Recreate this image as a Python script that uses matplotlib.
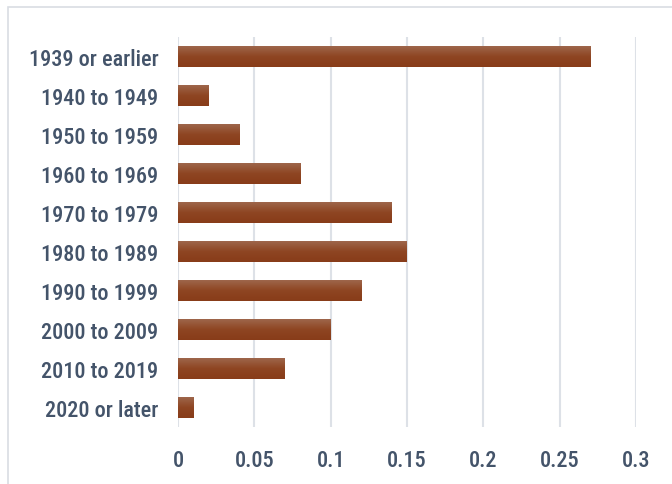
import numpy as np
import matplotlib.pyplot as plt
from matplotlib.colors import LinearSegmentedColormap
from matplotlib.patches import Rectangle
from matplotlib import font_manager

# --- data ---
categories = ['1939 or earlier', '1940 to 1949', '1950 to 1959', '1960 to 1969',
              '1970 to 1979', '1980 to 1989', '1990 to 1999', '2000 to 2009',
              '2010 to 2019', '2020 or later']
shares = [0.27, 0.02, 0.04, 0.08, 0.14, 0.15, 0.12, 0.10, 0.07, 0.01]
xticks = [0, 0.05, 0.1, 0.15, 0.2, 0.25, 0.3]
xtick_labels = ['0', '0.05', '0.1', '0.15', '0.2', '0.25', '0.3']

TEXT = '#44546a'
GRID = '#dde1e7'

# pick a narrow face, the reference uses a condensed font
names = {f.name for f in font_manager.fontManager.ttflist}
candidates = ['Roboto Condensed', 'Archivo Narrow', 'PT Sans Narrow', 'Encode Sans Condensed',
              'Barlow Semi Condensed', 'Liberation Sans Narrow', 'Open Sans Condensed']
family = next((c for c in candidates if c in names), 'DejaVu Sans')
plt.rcParams['font.family'] = [family, 'DejaVu Sans']

fig = plt.figure(figsize=(6.72, 4.85), dpi=100)
ax = fig.add_axes([178 / 672, 1 - 428 / 485, (636 - 178) / 672, (428 - 38) / 485])

# chart frame (light border on left and top)
fig.patches.append(Rectangle((8 / 672, -0.1), 1.0, 1 - 8 / 485 + 0.1,
                             transform=fig.transFigure, fill=False,
                             edgecolor='#d9dde3', linewidth=1.2))

grad = LinearSegmentedColormap.from_list('bar', ['#9e664b', '#8e4522', '#883c19'])
gimg = np.linspace(0, 1, 64).reshape(-1, 1)
h = 0.52
y = np.arange(len(categories))
for yi, v in zip(y, shares):
    ax.imshow(gimg, cmap=grad, aspect='auto', interpolation='bilinear',
              extent=(0, v, yi + h / 2, yi - h / 2), zorder=3)

ax.set_xlim(0, 0.3)
ax.set_ylim(len(categories) - 0.5, -0.5)
ax.set_xticks(xticks)
ax.set_xticklabels(xtick_labels)
ax.set_yticks(y)
ax.set_yticklabels(categories)
ax.grid(axis='x', color=GRID, linewidth=1.5, zorder=0)
ax.set_axisbelow(True)
for s in ax.spines.values():
    s.set_visible(False)
ax.tick_params(length=0, labelsize=16, labelcolor=TEXT)
ax.tick_params(axis='x', pad=16)
ax.tick_params(axis='y', pad=14)
for lab in ax.get_xticklabels() + ax.get_yticklabels():
    lab.set_fontweight('medium')

fig.savefig('out.png', dpi=100)
